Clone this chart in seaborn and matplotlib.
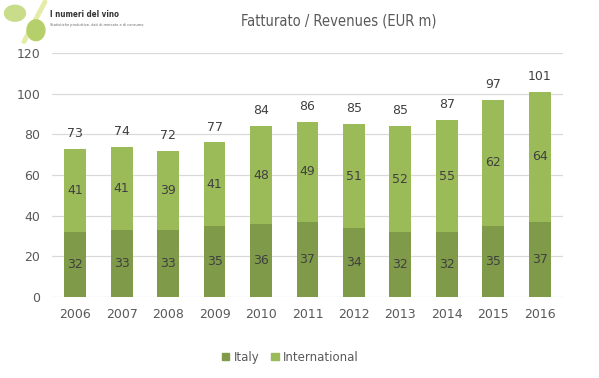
import pandas as pd
import seaborn as sns
import matplotlib.pyplot as plt
from matplotlib.patches import Ellipse

years = ['2006', '2007', '2008', '2009', '2010', '2011', '2012', '2013', '2014', '2015', '2016']
italy = [32, 33, 33, 35, 36, 37, 34, 32, 32, 35, 37]
international = [41, 41, 39, 41, 48, 49, 51, 52, 55, 62, 64]
totals = [73, 74, 72, 77, 84, 86, 85, 85, 87, 97, 101]

c_italy = '#7f9a48'
c_intl = '#9bbb59'
txt = '#404040'

sns.set_theme(style='white')
plt.rcParams['font.family'] = ['DejaVu Sans']

df = pd.DataFrame({'year': years, 'Italy': italy, 'International': international})
df['stack'] = df['Italy'] + df['International']

fig = plt.figure(figsize=(5.99, 3.78), dpi=100)
ax = fig.add_axes([0.0868, 0.214, 0.853, 0.646])

# top segment drawn as full stack, Italy drawn over it
sns.barplot(data=df, x='year', y='stack', color=c_intl, width=0.47,
            saturation=1, linewidth=0, edgecolor='none', ax=ax, zorder=2)
sns.barplot(data=df, x='year', y='Italy', color=c_italy, width=0.47,
            saturation=1, linewidth=0, edgecolor='none', ax=ax, zorder=3)

for i in range(len(years)):
    ax.text(i, italy[i] / 2, str(italy[i]), ha='center', va='center',
            fontsize=9, color=txt, zorder=4)
    ax.text(i, italy[i] + international[i] / 2, str(international[i]),
            ha='center', va='center', fontsize=9, color=txt, zorder=4)
    ax.annotate(str(totals[i]), (i, italy[i] + international[i]),
                xytext=(0, 11), textcoords='offset points',
                ha='center', va='center', fontsize=9, color=txt)

ax.set_ylim(0, 120)
ax.set_yticks(range(0, 121, 20))
ax.set_xlim(-0.5, len(years) - 0.5)
ax.yaxis.grid(True, color='#d9d9d9', linewidth=0.9, zorder=0)
ax.set_axisbelow(True)
for s in ax.spines.values():
    s.set_visible(False)
ax.set_xlabel('')
ax.set_ylabel('')
ax.tick_params(axis='both', length=0, labelsize=9, colors='#595959', pad=8)
ax.tick_params(axis='y', pad=8.5)

fig.text(0.566, 0.945, 'Fatturato / Revenues (EUR m)', ha='center', va='center',
         fontsize=10.5, color='#595959', fontstretch='condensed',
         family=['Liberation Sans Narrow', 'DejaVu Sans'])

# logo stand-in
fig.add_artist(plt.Line2D([0.04, 0.075], [0.89, 0.995], transform=fig.transFigure,
                          color='#e4eca8', linewidth=3.5, zorder=0))
fig.patches.append(Ellipse((0.025, 0.965), 0.035, 0.042, transform=fig.transFigure,
                           color='#c9dc8a', zorder=1))
fig.patches.append(Ellipse((0.06, 0.92), 0.03, 0.055, transform=fig.transFigure,
                           color='#b5d06a', zorder=1))
fig.text(0.084, 0.962, 'I numeri del vino', ha='left', va='center',
         fontsize=5.8, fontweight='bold', color='#333333', fontstretch='condensed')
fig.text(0.084, 0.935, 'Statistiche produttive, dati di mercato e di consumo',
         ha='left', va='center', fontsize=2.5, color='#666666')

handles = [plt.Rectangle((0, 0), 1, 1, color=c_italy),
           plt.Rectangle((0, 0), 1, 1, color=c_intl)]
fig.legend(handles, ['Italy', 'International'], loc='center', ncol=2,
           bbox_to_anchor=(0.485, 0.055), frameon=False, fontsize=8.5,
           handlelength=0.6, handleheight=0.6, handletextpad=0.4,
           columnspacing=1.0, labelcolor='#595959')

fig.savefig('out.png', dpi=100)
